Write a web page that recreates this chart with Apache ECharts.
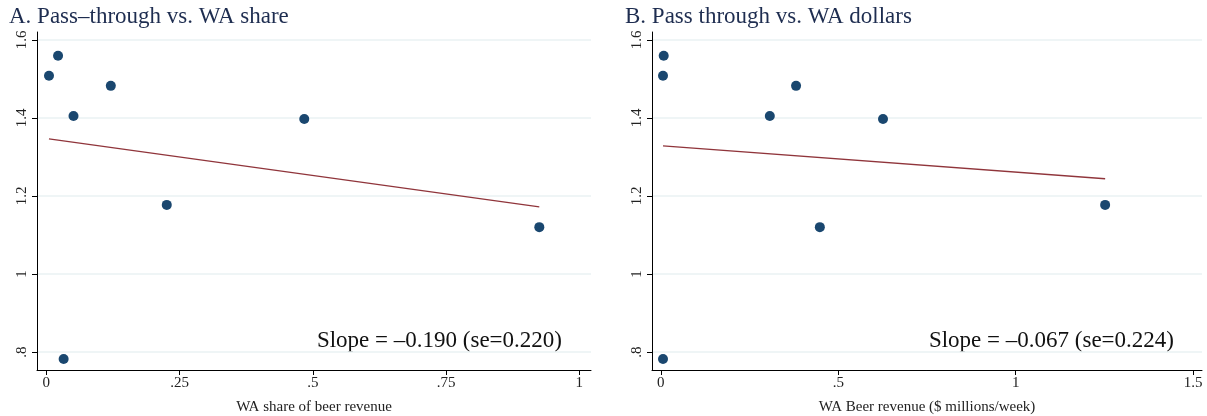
<!DOCTYPE html>
<html>
<head>
<meta charset="utf-8">
<script src="https://cdn.jsdelivr.net/npm/echarts@6/dist/echarts.min.js"></script>
<style>
  html, body { margin: 0; padding: 0; background: #fff; }
  #main { width: 1207px; height: 416px; }
</style>
</head>
<body>
<div id="main"></div>
<script>
  // panel A: WA share of beer revenue vs pass-through
  var shareA = [0.005, 0.022, 0.051, 0.121, 0.226, 0.484, 0.925, 0.0325];
  var passA = [1.508, 1.559, 1.405, 1.482, 1.177, 1.397, 1.120, 0.782];
  var fitA = [[0.005, 1.346], [0.925, 1.172]];
  // panel B: WA beer revenue ($ millions/week) vs pass-through
  var dollarsB = [0.006, 0.008, 0.307, 0.381, 1.252, 0.626, 0.448, 0.006];
  var passB = [1.508, 1.559, 1.405, 1.482, 1.177, 1.397, 1.120, 0.782];
  var fitB = [[0.006, 1.328], [1.252, 1.244]];

  var yTicks = [0.8, 1, 1.2, 1.4, 1.6];
  var xTicksA = [0, 0.25, 0.5, 0.75, 1];
  var xTicksB = [0, 0.5, 1, 1.5];
  var slopeA = 'Slope = \u20130.190 (se=0.220)';
  var slopeB = 'Slope = \u20130.067 (se=0.224)';

  var serif = '"Liberation Serif", "DejaVu Serif", serif';
  var navy = '#1a476f';
  var maroon = '#90353b';

  function pairs(xs, ys) {
    return xs.map(function (x, i) { return [x, ys[i]]; });
  }
  function fmt(v) {
    return String(+v.toFixed(2)).replace(/^0\./, '.');
  }

  function xAxis(idx, min, max, ticks, name) {
    return {
      gridIndex: idx, type: 'value', min: min, max: max,
      name: name, nameLocation: 'middle', nameGap: 30,
      nameTextStyle: { fontFamily: serif, fontSize: 15, color: '#222' },
      axisLine: { show: true, onZero: false, lineStyle: { color: '#000', width: 1 } },
      axisTick: { show: true, length: 5, customValues: ticks, lineStyle: { color: '#000' } },
      axisLabel: { customValues: ticks, formatter: fmt, fontFamily: serif, fontSize: 15, color: '#222', margin: 6 },
      splitLine: { show: false }
    };
  }
  function yAxis(idx) {
    return {
      gridIndex: idx, type: 'value', min: 0.754, max: 1.62,
      axisLine: { show: true, onZero: false, lineStyle: { color: '#000', width: 1 } },
      axisTick: { show: true, length: 5, customValues: yTicks, lineStyle: { color: '#000' } },
      axisLabel: { customValues: yTicks, formatter: fmt, rotate: 90, fontFamily: serif, fontSize: 15, color: '#222', margin: 7 },
      splitLine: { show: true, lineStyle: { color: '#eaf2f3', width: 1.5 } }
    };
  }

  var chart = echarts.init(document.getElementById('main'));
  chart.setOption({
    backgroundColor: '#fff',
    animation: false,
    title: [
      { text: 'A. Pass\u2013through vs. WA share', left: 4, top: 0,
        textStyle: { fontFamily: serif, fontSize: 23, fontWeight: 'normal', color: '#1e2d50' } },
      { text: 'B. Pass through vs. WA dollars', left: 620, top: 0,
        textStyle: { fontFamily: serif, fontSize: 23, fontWeight: 'normal', color: '#1e2d50' } }
    ],
    grid: [
      { left: 37, right: 616, top: 32, bottom: 46, outerBoundsMode: 'none', containLabel: false },
      { left: 652, right: 5, top: 32, bottom: 46, outerBoundsMode: 'none', containLabel: false }
    ],
    xAxis: [
      xAxis(0, -0.0175, 1.022, xTicksA, 'WA share of beer revenue'),
      xAxis(1, -0.025, 1.525, xTicksB, 'WA Beer revenue ($ millions/week)')
    ],
    yAxis: [yAxis(0), yAxis(1)],
    graphic: [
      { type: 'text', right: 1207 - 562, top: 329,
        style: { text: slopeA, font: '23px ' + serif, fill: '#111' } },
      { type: 'text', right: 1207 - 1174, top: 329,
        style: { text: slopeB, font: '23px ' + serif, fill: '#111' } }
    ],
    series: [
      { type: 'line', xAxisIndex: 0, yAxisIndex: 0, data: fitA, symbol: 'none',
        lineStyle: { color: maroon, width: 1.3 }, z: 2 },
      { type: 'scatter', xAxisIndex: 0, yAxisIndex: 0, data: pairs(shareA, passA),
        symbolSize: 10, itemStyle: { color: navy, opacity: 1 }, z: 3 },
      { type: 'line', xAxisIndex: 1, yAxisIndex: 1, data: fitB, symbol: 'none',
        lineStyle: { color: maroon, width: 1.3 }, z: 2 },
      { type: 'scatter', xAxisIndex: 1, yAxisIndex: 1, data: pairs(dollarsB, passB),
        symbolSize: 10, itemStyle: { color: navy, opacity: 1 }, z: 3 }
    ]
  });
</script>
</body>
</html>
